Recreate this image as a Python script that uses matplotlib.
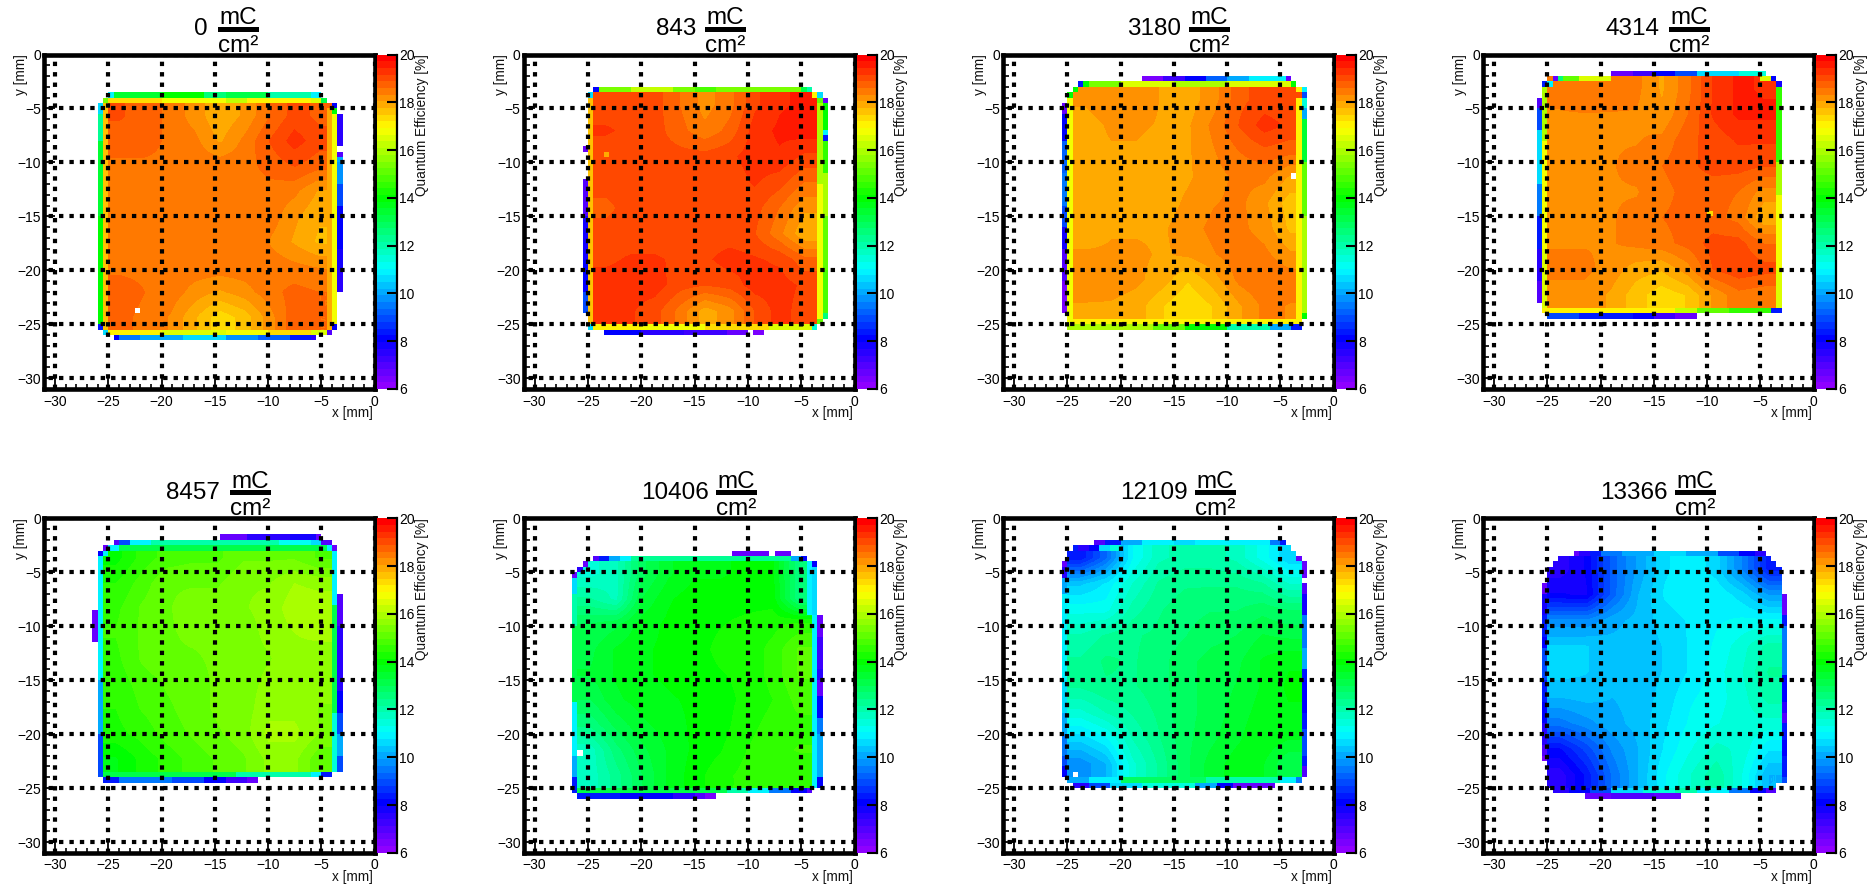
import numpy as np
import matplotlib
matplotlib.use("Agg")
import matplotlib.pyplot as plt
from matplotlib.colors import LinearSegmentedColormap, Normalize
from matplotlib.cm import ScalarMappable
from matplotlib.patches import Polygon, Rectangle
from matplotlib.ticker import MultipleLocator

plt.rcParams['font.family'] = ['Liberation Sans', 'DejaVu Sans']

DOSES = ["0", "843", "3180", "4314", "8457", "10406", "12109", "13366"]
X_TICKS = [-30, -25, -20, -15, -10, -5, 0]
Y_TICKS = [0, -5, -10, -15, -20, -25, -30]
CBAR_TICKS = [6, 8, 10, 12, 14, 16, 18, 20]
QE_MIN, QE_MAX = 6, 20

# ---- core of each map: extents (x0, x1, ytop, ybot) in mm and QE values [%] ----
EXTENT_0 = (-25, -4, -4.5, -25.5)
CORE_0 = [[18.9,18.8,18.5,18.2,17.8,18.1,18.6,19.0,18.8],
          [18.8,18.8,18.5,18.4,18.0,18.4,18.9,19.3,19.0],
          [18.5,18.5,18.5,18.5,18.5,18.5,18.7,18.9,18.7],
          [18.5,18.5,18.5,18.5,18.5,18.5,18.5,18.4,18.0],
          [18.5,18.5,18.5,18.5,18.5,18.5,18.5,18.1,17.8],
          [18.5,18.5,18.5,18.5,18.5,18.5,18.3,18.0,17.7],
          [18.5,18.5,18.5,18.5,18.5,18.5,18.5,18.4,18.3],
          [18.8,18.6,18.5,18.2,18.0,18.2,18.5,18.7,18.6],
          [18.7,18.5,18.3,17.8,17.3,17.6,18.2,18.8,18.6]]
EXTENT_1 = (-24.5, -3.5, -3.5, -25)
CORE_1 = [[19.0,19.1,19.0,18.6,18.2,18.5,19.1,19.4,19.5],
          [19.2,19.1,19.0,18.7,18.4,18.7,19.3,19.5,19.6],
          [19.0,19.0,19.0,19.0,19.0,19.1,19.3,19.4,19.1],
          [19.0,19.0,19.0,19.0,19.0,19.0,19.2,19.0,18.6],
          [18.8,19.0,19.0,19.0,19.0,19.0,19.0,18.6,18.1],
          [19.0,19.0,19.0,19.0,19.0,19.0,18.9,18.4,17.8],
          [19.1,19.2,19.2,19.1,19.1,19.3,19.2,19.1,18.7],
          [19.3,19.3,19.3,19.0,18.9,19.0,19.3,19.3,19.1],
          [19.3,19.2,19.0,18.5,17.9,18.2,18.9,19.3,19.0]]
EXTENT_2 = (-24.5, -3, -3, -24.5)
CORE_2 = [[18.1,18.3,18.3,18.0,17.9,18.2,18.8,19.0,18.9],
          [17.9,18.1,18.1,18.0,18.0,18.4,18.9,19.3,19.1],
          [17.9,18.0,18.0,17.9,18.0,18.3,18.6,18.8,18.7],
          [17.8,17.9,18.0,17.9,18.0,18.2,18.4,18.4,18.0],
          [17.8,17.8,17.9,17.9,18.1,18.3,18.4,18.1,17.6],
          [17.8,18.0,18.0,18.0,18.2,18.4,18.4,18.2,17.7],
          [18.1,18.1,18.1,18.0,18.1,18.3,18.5,18.4,18.1],
          [18.3,18.2,18.1,17.9,17.5,17.9,18.4,18.6,18.5],
          [18.0,18.0,17.9,17.5,17.2,17.5,18.0,18.4,18.3]]
EXTENT_3 = (-25, -3.5, -2, -23.5)
CORE_3 = [[18.4,18.6,18.5,18.4,18.0,18.5,19.2,19.5,19.4],
          [18.3,18.3,18.3,18.3,18.1,18.6,19.2,19.5,19.5],
          [18.3,18.3,18.3,18.3,18.4,18.8,19.0,19.2,19.2],
          [18.3,18.3,18.3,18.4,18.6,18.8,19.0,19.0,18.9],
          [18.3,18.3,18.3,18.3,18.5,18.7,18.7,18.6,18.2],
          [18.3,18.3,18.3,18.4,18.6,18.7,18.7,18.5,17.8],
          [18.3,18.3,18.3,18.4,18.5,18.7,19.0,19.0,18.6],
          [18.4,18.4,18.2,17.9,17.8,18.2,18.9,19.1,19.0],
          [18.2,18.2,18.0,17.6,17.3,17.5,18.1,18.5,18.4]]
EXTENT_4 = (-25.5, -4, -2.5, -23.5)
CORE_4 = [[14.0,14.5,14.8,14.9,14.9,15.2,15.2,15.2,14.9],
          [14.4,14.8,15.2,15.2,15.2,15.5,15.5,15.8,15.7],
          [14.6,15.0,15.2,15.4,15.4,15.5,15.6,16.0,16.0],
          [14.7,15.0,15.2,15.3,15.3,15.4,15.6,15.8,15.9],
          [14.6,15.0,15.2,15.2,15.3,15.4,15.5,15.7,15.6],
          [14.5,14.8,15.0,15.1,15.3,15.4,15.6,15.7,15.6],
          [14.4,14.7,14.9,15.1,15.3,15.4,15.7,15.7,15.5],
          [14.3,14.5,14.8,15.0,15.2,15.4,15.9,15.9,15.5],
          [13.8,14.2,14.5,14.8,15.0,15.2,15.6,15.6,15.0]]
EXTENT_5 = (-26, -4, -4, -25)
CORE_5 = [[11.5,11.8,12.9,13.5,13.8,13.8,13.9,13.9,12.5],
          [12.2,11.8,13.3,13.8,14.0,14.0,14.0,14.0,12.5],
          [13.0,13.2,13.7,13.9,14.0,14.1,14.2,14.3,14.5],
          [13.2,13.6,13.8,13.9,14.0,14.2,14.2,14.5,15.0],
          [13.3,13.6,13.8,13.9,14.0,14.1,14.2,14.5,15.0],
          [13.0,13.5,13.7,13.8,13.9,14.0,14.2,14.4,14.8],
          [12.5,13.1,13.5,13.7,13.9,14.0,14.3,14.5,14.6],
          [11.7,12.6,13.2,13.6,13.9,14.1,14.4,14.6,14.7],
          [11.7,12.3,13.0,13.6,14.0,14.3,14.5,14.6,14.5]]
EXTENT_6 = (-25, -3, -2.5, -24)
CORE_6 = [[ 8.3, 9.3,11.0,11.8,12.0,12.0,11.8,11.2,10.5],
          [10.4,10.8,11.6,12.2,12.4,12.4,12.4,12.2,11.6],
          [11.2,11.2,12.0,12.4,12.6,12.7,12.7,12.9,12.7],
          [11.9,12.2,12.4,12.5,12.7,12.9,13.0,13.3,13.2],
          [12.2,12.5,12.4,12.6,12.9,13.1,13.2,13.6,13.8],
          [12.2,12.4,12.4,12.6,12.9,13.1,13.3,13.6,13.9],
          [11.5,11.9,12.2,12.5,12.9,13.1,13.4,13.7,13.8],
          [10.6,11.0,11.9,12.4,12.9,13.2,13.5,13.8,13.6],
          [ 9.7,10.2,11.5,12.2,12.9,13.4,13.7,13.6,13.0]]
EXTENT_7 = (-25, -3, -3.5, -25)
CORE_7 = [[ 7.5, 8.0, 9.2,10.0,10.7,11.0,10.6, 9.6, 8.4],
          [ 8.0, 7.9, 9.2,10.2,10.8,11.0,11.0,10.6, 9.9],
          [ 9.7, 9.7,10.1,10.3,10.6,10.8,11.0,11.1,11.1],
          [10.5,10.5,10.3,10.3,10.5,10.8,11.1,11.5,12.0],
          [10.6,10.5,10.3,10.3,10.5,10.8,11.2,11.6,12.2],
          [10.2,10.3,10.2,10.3,10.6,11.0,11.2,11.5,12.0],
          [ 9.5, 9.8,10.1,10.3,10.7,11.1,11.3,11.5,11.5],
          [ 8.2, 8.9, 9.7,10.2,10.8,11.3,11.7,11.5,10.8],
          [ 7.5, 8.3, 9.4,10.2,11.0,11.6,12.1,11.3,10.2]]

# ---- edge bins: (row top y, [(x from, x to, QE), ...]) ----
ROWS_0 = [(-3.5, [(-25,-24.5,11),(-24.5,-20,13.5),(-20,-16,14),(-16,-14,12.5),(-14,-10,13),(-10,-6,12),(-6,-5,10.8)]),
          (-4, [(-25.5,-25,15.5),(-25,-20,17.3),(-20,-14,16.7),(-14,-12,16.3),(-12,-6,17),(-6,-5,16.5),(-5,-4.5,13)]),
          (-25.5, [(-25.5,-25,10.5),(-25,-20,17),(-20,-14,16.6),(-14,-10,16.8),(-10,-6,17.2),(-6,-4.5,16.6),(-4.5,-4,7)]),
          (-26, [(-24.5,-24,8),(-24,-22,9.5),(-22,-18,10),(-18,-14,10.6),(-14,-11,9.8),(-11,-8,9.3),(-8,-6,8.5),(-6,-5.5,7.5)])]
COLS_0 = [(-26, [(-4.5,-5.5,10.5),(-5.5,-8,12.2),(-8,-15,13.5),(-15,-25,14),(-25,-25.5,8.5)]),
          (-25.5, [(-4.5,-25.5,17.5)]),
          (-4.5, [(-5,-25.5,17.8)]),
          (-4, [(-4.5,-5,8),(-5,-5.5,14),(-5.5,-25,16.8),(-25,-25.5,8)]),
          (-3.5, [(-5.5,-8.5,7.5),(-9,-9.5,7),(-9.5,-10,10),(-10,-12,9.8),(-12,-14,9),(-14,-18,8),(-18,-20,7.8),(-20,-22,7.5)])]
ROWS_1 = [(-3, [(-24.5,-24,8),(-24,-21,15.5),(-21,-17,16.3),(-17,-15,15.5),(-15,-13,14.8),(-13,-9,15.5),(-9,-5,15.3),(-5,-4.5,13),(-4.5,-4,12)]),
          (-3.5, [(-25,-24.5,10.5),(-4,-3.5,17),(-3.5,-3,10.5)]),
          (-4, [(-3.5,-3,15),(-3,-2.5,6.8)]),
          (-9, [(-23.5,-23,18.0)]),
          (-25, [(-25,-24.5,10.5),(-24.5,-20,17),(-20,-14,16.8),(-14,-8,17.2),(-8,-4,16.5),(-4,-3.5,11.5)]),
          (-24.5, [(-3.5,-3,15)]),
          (-25.5, [(-23.5,-23,8),(-23,-20,8),(-20,-16,7.5),(-16,-12,7.2),(-12,-10,6.6),(-9.5,-8.5,6.5)])]
COLS_1 = [(-25, [(-4,-25,17.5)]),
          (-25.5, [(-8.5,-9,6.7),(-11.5,-13,7),(-13,-15,6.9),(-15,-19,7.8),(-19,-22,8.2),(-22,-24,9)]),
          (-3.5, [(-4.5,-12,16),(-12,-24.5,16.8)]),
          (-3, [(-4.5,-7,14),(-7,-7.5,11),(-7.5,-8,8.5),(-8,-11,14.5),(-11,-15,16),(-15,-20,15),(-20,-24,14.8),(-24,-24.5,12.5)])]
ROWS_2 = [(-2, [(-18,-16,6.5),(-16,-14,7.2),(-14,-12,8),(-12,-10,9.2),(-10,-8,10.2),(-8,-4.5,10.8),(-4.5,-4,6.8)]),
          (-2.5, [(-24,-23.5,8.5),(-23.5,-23,14),(-23,-20,15.5),(-20,-15,16.5),(-15,-10,16),(-10,-4,16.5),(-4,-3.5,14)]),
          (-3, [(-24.5,-24,14),(-3.5,-3,17),(-3,-2.5,11)]),
          (-3.5, [(-25,-24.5,14),(-3,-2.5,9)]),
          (-24.5, [(-24.5,-3,17)]),
          (-25, [(-25,-17,15.8),(-17,-14,15),(-14,-10,14),(-10,-6,12),(-6,-4,10),(-4,-3,8.5)])]
COLS_2 = [(-25, [(-4,-25,16.8)]),
          (-25.5, [(-4.5,-5.5,6.8),(-5.5,-8,8),(-8,-11,9.3),(-11,-14,9.5),(-14,-16,9),(-16,-18,7.8),(-18,-21,7),(-21,-24,6.5)]),
          (-3.5, [(-4,-24.5,17)]),
          (-3, [(-4,-5,11.5),(-5,-6,10),(-6,-10,13.5),(-10,-15,15),(-15,-24,15.8),(-24,-24.5,14)])]
ROWS_3 = [(-1.5, [(-19,-17,6.7),(-17,-15,7.2),(-15,-13,8),(-13,-11,9),(-11,-7,10.6),(-7,-4.5,11.5)]),
          (-2, [(-24.5,-24,6.8),(-24,-23.5,12.5),(-23.5,-22,15),(-22,-19,16.5),(-5,-4,16.5),(-4,-3.5,8)]),
          (-2.5, [(-25.5,-25,8.5),(-25,-24.5,11),(-3.5,-3,7.8)]),
          (-14.5, [(-10,-9.5,17.2)]),
          (-23.5, [(-25.5,-13,17),(-13,-11,16.2),(-11,-8,15),(-8,-4,14.5),(-4,-3,8.5)]),
          (-24, [(-25,-22,9),(-22,-17,8.5),(-17,-15,8),(-15,-13,7.2),(-13,-11,6.6)])]
COLS_3 = [(-25.5, [(-3,-8,16),(-8,-18,16.8),(-18,-23.5,16.5)]),
          (-26, [(-4,-5,7),(-5,-7,9),(-7,-12,10.5),(-12,-15,9.5),(-15,-18,8.5),(-18,-21,7.5),(-21,-23,7)]),
          (-3.5, [(-3,-10,14.5),(-10,-13,16),(-13,-20,16.9),(-20,-23.5,16.5)])]
ROWS_4 = [(-1.5, [(-14.5,-12,6.8),(-12,-8,7.5),(-8,-5.5,7.8),(-5.5,-5,6.7)]),
          (-2, [(-24.5,-24,7),(-24,-23,9),(-23,-21,10.8),(-21,-9,12),(-9,-6,11.2),(-6,-5,10.5),(-5,-4,7)]),
          (-2.5, [(-25.5,-25,6.8),(-25,-24,11),(-24,-4.5,13),(-4.5,-4,11),(-4,-3.5,6.8)]),
          (-3, [(-26,-25.5,8),(-25.5,-25,11),(-4,-3.5,10.8)]),
          (-23.5, [(-26,-13,13),(-13,-6,12),(-6,-5,11),(-5,-4,8.5)]),
          (-24, [(-25.5,-24,8.5),(-24,-19,9.5),(-19,-16,9),(-16,-14,8),(-14,-12,7.2),(-12,-11,6.7)])]
COLS_4 = [(-26, [(-3.5,-15,10.8),(-15,-20,10),(-20,-24,9)]),
          (-26.5, [(-8.5,-11.5,6.7)]),
          (-4, [(-3,-8,10.8),(-8,-18,13),(-18,-23.5,11.5)]),
          (-3.5, [(-7,-10,7),(-10,-16,7.6),(-16,-18,8),(-18,-20,9),(-20,-22,10.2),(-22,-23.5,9)])]
ROWS_5 = [(-3, [(-11.5,-8,6.7),(-7.5,-6,6.7)]),
          (-3.5, [(-24.5,-24,7),(-24,-23,8.5),(-23,-22,10),(-22,-21,11),(-21,-6,12.2),(-6,-5,10),(-5,-4.5,8)]),
          (-4, [(-25.5,-25,6.8)]),
          (-4.5, [(-26,-25.5,7.5)]),
          (-25, [(-26,-12,13),(-12,-10,12),(-10,-8,11),(-8,-6,9.5),(-6,-4.5,8),(-4.5,-4,6.9)]),
          (-25.5, [(-26,-22,8.5),(-22,-17,8),(-17,-15,7.6),(-15,-14,7),(-14,-13,6.5)])]
COLS_5 = [(-26.5, [(-5,-5.5,6.8),(-5.5,-7,10.6),(-7,-10,12),(-10,-17,13),(-17,-22,11),(-22,-24,10),(-24,-25.5,8.5)]),
          (-4.5, [(-4,-9,11)]),
          (-4, [(-4,-4.5,8),(-4.5,-9,10.5),(-9,-25,11)]),
          (-3.5, [(-9,-11,6.8),(-11,-14,7.2),(-14,-15,7.6),(-15,-16.5,6.8),(-16.5,-18.5,8),(-18.5,-20,9.5),(-20,-24,10.2),(-24,-25,8)])]
ROWS_6 = [(-2, [(-22.5,-21.5,7),(-21.5,-20,8.5),(-20,-18,10),(-18,-15,11),(-15,-13,10.5),(-13,-6,11),(-6,-5,9.5),(-5,-4.5,8.5)]),
          (-2.5, [(-24,-23,7.6),(-23,-22,8.2),(-22,-21,10.5),(-21,-20,11.5)]),
          (-3.5, [(-3.5,-3,6.8)]),
          (-24, [(-25,-23,10),(-23,-20,11),(-20,-12,12.8),(-12,-5,12),(-5,-3.5,11),(-3.5,-3,9.5)]),
          (-24.5, [(-24.5,-23,7.5),(-23,-21,9),(-21,-18,10.5),(-18,-13,11.5),(-13,-11,10),(-11,-9.5,8),(-9.5,-5.5,6.8)])]
COLS_6 = [(-25.5, [(-4,-4.5,6.8),(-4.5,-5.5,7.5),(-5.5,-7,10),(-7,-15,11),(-15,-18,10.5),(-18,-20,10),(-20,-22,9.5),(-22,-23,9),(-23,-24,8)]),
          (-3, [(-4,-5.5,6.8),(-6,-7,7),(-7,-9,7.8),(-9,-12,9.5),(-12,-14,10),(-14,-15,8.5),(-15,-18,8),(-18,-19.5,8.5),(-19.5,-22,9),(-22,-23,8.5),(-23,-24,7)])]
ROWS_7 = [(-3, [(-22.5,-22,6.8),(-22,-21,7.5),(-21,-20,8.5),(-20,-18,9.5),(-18,-15,10),(-15,-12,10.5),(-12,-9,10),(-9,-7,9),(-7,-5.5,8),(-5.5,-4.5,7.5)]),
          (-25, [(-24.5,-23,7.5),(-23,-21,8),(-21,-19,9),(-19,-16,10.5),(-16,-13,11.5),(-13,-11,12),(-11,-8,11),(-8,-6,9.5),(-6,-4.5,8),(-4.5,-3.5,7)]),
          (-25.5, [(-21.5,-19,6.8),(-19,-15,7),(-15,-12.5,6.8)])]
COLS_7 = [(-25.5, [(-6,-7,6.8),(-7,-9,7.7),(-9,-11,8.5),(-11,-12,8),(-12,-15,9),(-15,-17,8.5),(-17,-19,8),(-19,-21,7.5),(-21,-22,7),(-22,-22.5,6.5)]),
          (-3, [(-7,-9,6.8),(-9,-10,8.5),(-10,-14.5,9.5),(-14.5,-17,8),(-17,-18,7.5),(-18,-19,7),(-19,-20.5,8.5),(-20.5,-22,8),(-22,-24,8.5),(-24,-24.5,9)])]

# white (empty) bins: (x left, y top); corner steps of the core: (tl, tr, br, bl) in bins
HOLES = [[(-22.5,-23.5)], [], [(-4,-11)], [], [], [(-26,-21.5)], [(-24.5,-23.5)], []]
STEPS = [(0,0,0,0), (0,0,0,0), (1,1,0,0), (1,0,0,0), (0,0,0,0), (2,0,0,0), (2,2,0,0), (3,2,1,0)]

EXTENTS = [EXTENT_0, EXTENT_1, EXTENT_2, EXTENT_3, EXTENT_4, EXTENT_5, EXTENT_6, EXTENT_7]
CORES = [CORE_0, CORE_1, CORE_2, CORE_3, CORE_4, CORE_5, CORE_6, CORE_7]
ROWS = [ROWS_0, ROWS_1, ROWS_2, ROWS_3, ROWS_4, ROWS_5, ROWS_6, ROWS_7]
COLS = [COLS_0, COLS_1, COLS_2, COLS_3, COLS_4, COLS_5, COLS_6, COLS_7]

# ---- layout in pixels ----
W, H = 1868, 884
LEFTS = [44.3, 524.0, 1003.3, 1483.3]
TOPS = [54.5, 518.3]
AX_W, AX_H = 330.5, 334.5
BAR_CENTRES = [238, 725, 1209.5, 1689, 250, 736.5, 1215.5, 1695.5]
NUM_RIGHTS = [208, 696, 1181, 1660, 220, 708.5, 1187.5, 1667.5]

palette = [(0, (0.56, 0, 1)), (1/7, (0, 0, 1)), (5/14, (0, 1, 1)), (4/7, (0, 1, 0)),
           (11/14, (1, 1, 0)), (1, (1, 0, 0))]
cmap = LinearSegmentedColormap.from_list('root_rainbow', palette, N=50)
norm = Normalize(QE_MIN, QE_MAX)


def fx(px):
    return px / W


def fy(py):
    return 1 - py / H


def outline(ext, steps):
    x0, x1, yt, yb = ext
    tl, tr, br, bl = steps
    pts = []
    for k in range(tl + 1):
        pts.append((x0 + (tl - k) * 0.5, yt - k * 0.5))
        if k < tl:
            pts.append((x0 + (tl - k - 1) * 0.5, yt - k * 0.5))
    pts.reverse()
    for k in range(tr + 1):
        pts.append((x1 - (tr - k) * 0.5, yt - k * 0.5))
        if k < tr:
            pts.append((x1 - (tr - k) * 0.5, yt - (k + 1) * 0.5))
    pts.append((x1, yb + br * 0.5))
    for k in range(br):
        pts.append((x1 - (k + 1) * 0.5, yb + (br - k) * 0.5))
        pts.append((x1 - (k + 1) * 0.5, yb + (br - k - 1) * 0.5))
    pts.append((x0 + bl * 0.5, yb))
    pts.append((x0, yb + bl * 0.5))
    return pts


fig = plt.figure(figsize=(W / 100, H / 100), dpi=100, facecolor='white')
x_edges = np.arange(0, 63) * 0.5 - 31
y_edges = -np.arange(0, 63) * 0.5

for i in range(8):
    r, c = i // 4, i % 4
    L, T = LEFTS[c], TOPS[r]
    ax = fig.add_axes([fx(L), fy(T + AX_H), AX_W / W, AX_H / H])

    ext = EXTENTS[i]
    im = ax.imshow(np.array(CORES[i]), extent=(ext[0], ext[1], ext[3], ext[2]), origin='upper',
                   cmap=cmap, norm=norm, aspect='auto', interpolation='bilinear',
                   interpolation_stage='data', zorder=1)
    clip = Polygon(outline(ext, STEPS[i]), closed=True, transform=ax.transData)
    im.set_clip_path(clip)

    grid = np.full((62, 62), np.nan)
    for ytop, runs in ROWS[i]:
        row = int(round(-ytop / 0.5))
        for a, b, v in runs:
            grid[row, int(round((a + 31) / 0.5)):int(round((b + 31) / 0.5))] = v
    for xleft, runs in COLS[i]:
        col = int(round((xleft + 31) / 0.5))
        for a, b, v in runs:
            grid[int(round(-a / 0.5)):int(round(-b / 0.5)), col] = v
    ax.pcolormesh(x_edges, y_edges, np.ma.masked_invalid(grid), cmap=cmap, norm=norm,
                  zorder=2, antialiased=False, linewidth=0)
    for hx, hy in HOLES[i]:
        ax.add_patch(Rectangle((hx, hy - 0.5), 0.5, 0.5, fc='white', ec='none', zorder=3))

    ax.set_xlim(-31, 0)
    ax.set_ylim(-31, 0)
    ax.set_xticks(X_TICKS)
    ax.set_yticks(Y_TICKS)
    ax.xaxis.set_minor_locator(MultipleLocator(1))
    ax.yaxis.set_minor_locator(MultipleLocator(1))
    ax.tick_params(axis='x', which='major', direction='in', length=8, width=1.3, labelsize=10, pad=4)
    ax.tick_params(axis='y', which='major', direction='in', length=8, width=1.3, labelsize=10, pad=2.5)
    ax.tick_params(axis='x', which='minor', direction='in', length=3.8, width=1.2)
    ax.tick_params(axis='y', which='minor', direction='in', length=4.6, width=1.2)
    ax.set_axisbelow(False)
    ax.xaxis.grid(True, which='major', color='black', lw=3.0, ls=(0.0, (1.05, 1.45)),
                  dash_capstyle='butt', zorder=4)
    ax.yaxis.grid(True, which='major', color='black', lw=3.0, ls=(1.4, (1.05, 1.45)),
                  dash_capstyle='butt', zorder=4)
    for s in ax.spines.values():
        s.set_linewidth(3.3)
        s.set_capstyle('projecting')
        s.set_zorder(6)

    # colour scale
    cax = fig.add_axes([fx(L + 333), fy(T + AX_H), 20 / W, AX_H / H])
    cbar = fig.colorbar(ScalarMappable(norm=norm, cmap=cmap), cax=cax, ticks=CBAR_TICKS)
    cbar.outline.set_visible(False)
    cax.spines['right'].set_visible(True)
    cax.spines['right'].set_linewidth(1.6)
    cax.tick_params(axis='y', which='major', direction='in', length=7.2, width=1.5,
                    labelsize=10, pad=1.5, color='black')
    cax.minorticks_off()

    # axis titles
    fig.text(fx(L + AX_W - 2), fy(T + AX_H + 24), 'x [mm]', fontsize=9.8, ha='right', va='center', color='#111111')
    fig.text(fx(L - 23.5), fy(T), 'y [mm]', fontsize=9.8, rotation=90, ha='center', va='top', color='#111111')
    fig.text(fx(L + 377.5), fy(T), 'Quantum Efficiency [%]', fontsize=9.8, rotation=90,
             ha='center', va='top', color='#111111')

    # title: dose and unit fraction
    cx = BAR_CENTRES[i]
    off = TOPS[r] - 54.5
    fig.text(fx(NUM_RIGHTS[i]), fy(35 + off), DOSES[i], fontsize=17.5, ha='right', va='baseline')
    fig.text(fx(cx), fy(24 + off), 'mC', fontsize=17.5, ha='center', va='baseline')
    fig.text(fx(cx), fy(51.5 + off), 'cm\u00b2', fontsize=17.5, ha='center', va='baseline')
    fig.add_artist(Rectangle((fx(cx - 20.5), fy(31.5 + off)), 41 / W, 5 / H, transform=fig.transFigure,
                             fc='black', ec='none'))

fig.savefig('out.png', dpi=100, facecolor='white')
